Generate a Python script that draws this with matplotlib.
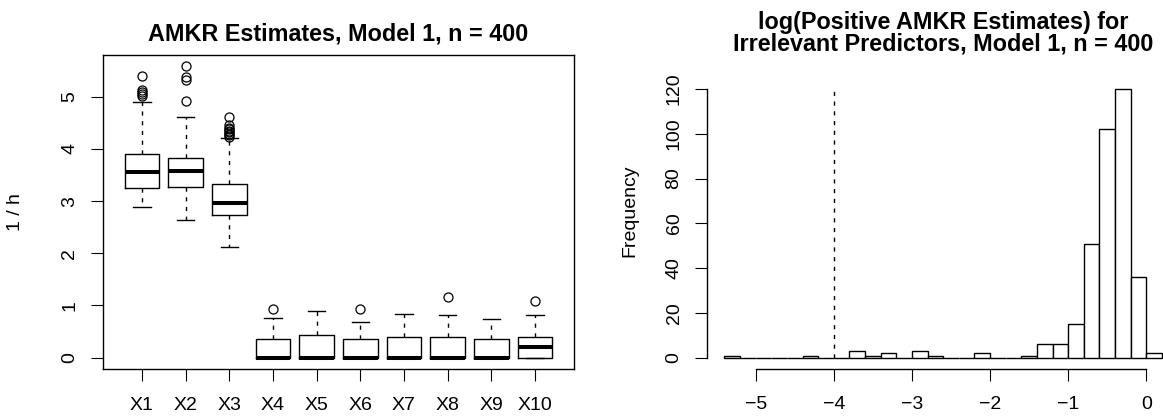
import numpy as np
import matplotlib.pyplot as plt

W, H = 1163, 417
plt.rcParams['font.family'] = ['Liberation Sans', 'DejaVu Sans']

# ── Left panel: boxplot summary of AMKR estimates (1/h) ──────────────────────
groups = ['X1', 'X2', 'X3', 'X4', 'X5', 'X6', 'X7', 'X8', 'X9', 'X10']
whislo = [2.89, 2.63, 2.13, 0.0, 0.0, 0.0, 0.0, 0.0, 0.0, 0.0]
q1     = [3.25, 3.28, 2.73, 0.0, 0.0, 0.0, 0.0, 0.0, 0.0, 0.0]
med    = [3.56, 3.58, 2.97, 0.0, 0.0, 0.0, 0.0, 0.0, 0.0, 0.205]
q3     = [3.91, 3.82, 3.32, 0.35, 0.43, 0.35, 0.40, 0.39, 0.35, 0.39]
whishi = [4.89, 4.62, 4.20, 0.755, 0.89, 0.68, 0.84, 0.81, 0.74, 0.81]
fliers = [
    [5.40, 5.13, 5.09, 5.05, 5.01],
    [5.59, 5.38, 5.33, 4.92],
    [4.62, 4.45, 4.41, 4.38, 4.35, 4.32, 4.29, 4.26, 4.23],
    [0.93], [], [0.93], [], [1.17], [], [1.09],
]

# ── Right panel: histogram of log(positive estimates) ────────────────────────
bin_lo, bin_hi, bin_w = -5.4, 0.2, 0.2
counts = [1, 0, 0, 0, 0, 1, 0, 0, 3, 1, 2, 0, 3, 1,
          0, 0, 2, 0, 0, 1, 6, 6, 15, 51, 102, 120, 36, 2]
cutoff = -4

LW = 1.0
TICK_FS = 14


def fig_box(l, t, r, b):
    return [l / W, 1 - b / H, (r - l) / W, (b - t) / H]


def style_ticks(ax, ypad, xpad):
    ax.tick_params(axis='both', direction='out', length=8.6, width=0.8,
                   labelsize=TICK_FS, colors='black')
    ax.tick_params(axis='y', pad=ypad)
    ax.tick_params(axis='x', pad=xpad)
    for lbl in ax.get_yticklabels():
        lbl.set_rotation(90)
        lbl.set_verticalalignment('center')
        lbl.set_horizontalalignment('right')


fig = plt.figure(figsize=(W / 100, H / 100), dpi=100)

# boxplot
ax1 = fig.add_axes(fig_box(102.7, 55, 574.3, 369.3))
stats = []
for i in range(len(groups)):
    stats.append(dict(label=groups[i], whislo=whislo[i], q1=q1[i], med=med[i],
                      q3=q3[i], whishi=whishi[i], fliers=np.array(fliers[i])))
ax1.bxp(stats, positions=range(1, len(groups) + 1), widths=0.8, capwidths=0.4,
        boxprops=dict(color='black', lw=LW),
        medianprops=dict(color='black', lw=2.9, solid_capstyle='butt'),
        whiskerprops=dict(color='black', lw=LW, linestyle=(0, (3, 4))),
        capprops=dict(color='black', lw=LW),
        flierprops=dict(marker='o', markersize=6.5, markerfacecolor='none',
                        markeredgecolor='black', markeredgewidth=0.9))
ax1.set_xlim(0.1, 10.9)
ax1.set_ylim(-0.223, 5.80)
ax1.set_yticks([0, 1, 2, 3, 4, 5])
ax1.set_xticks(range(1, len(groups) + 1))
ax1.set_xticklabels(groups)
for s in ax1.spines.values():
    s.set_linewidth(LW)
    s.set_color('black')
style_ticks(ax1, ypad=9, xpad=11)

# histogram
ax2 = fig.add_axes(fig_box(707, 78.2, 1179.4, 368.5))
edges = np.linspace(bin_lo, bin_hi, len(counts) + 1)
ax2.bar(edges[:-1], counts, width=bin_w, align='edge', facecolor='white',
        edgecolor='black', linewidth=LW)
ax2.plot([cutoff, cutoff], [0, max(counts)], color='black', lw=LW,
         linestyle=(0, (3, 4)))
ax2.set_xlim(bin_lo - 0.04 * (bin_hi - bin_lo), bin_hi + 0.04 * (bin_hi - bin_lo))
ax2.set_ylim(-0.04 * max(counts), 1.04 * max(counts))
ax2.set_xticks([-5, -4, -3, -2, -1, 0])
ax2.set_yticks([0, 20, 40, 60, 80, 100, 120])
ax2.spines['top'].set_visible(False)
ax2.spines['right'].set_visible(False)
ax2.spines['left'].set_bounds(0, 120)
ax2.spines['bottom'].set_bounds(-5, 0)
for s in ax2.spines.values():
    s.set_linewidth(LW)
style_ticks(ax2, ypad=9, xpad=11)

# titles and axis labels
fig.text(338.5 / W, 1 - 40.7 / H, 'AMKR Estimates, Model 1, n = 400',
         ha='center', va='baseline', fontsize=16.8, fontweight='bold')
fig.text(943 / W, 1 - 29 / H, 'log(Positive AMKR Estimates) for',
         ha='center', va='baseline', fontsize=16.8, fontweight='bold')
fig.text(943 / W, 1 - 50 / H, 'Irrelevant Predictors, Model 1, n = 400',
         ha='center', va='baseline', fontsize=16.8, fontweight='bold')
fig.text(16 / W, 1 - 212 / H, '1 / h', rotation=90, ha='center', va='center',
         fontsize=TICK_FS)
fig.text(630 / W, 1 - 211 / H, 'Frequency', rotation=90, ha='center',
         va='center', fontsize=TICK_FS)

fig.savefig('out.png', dpi=100)
